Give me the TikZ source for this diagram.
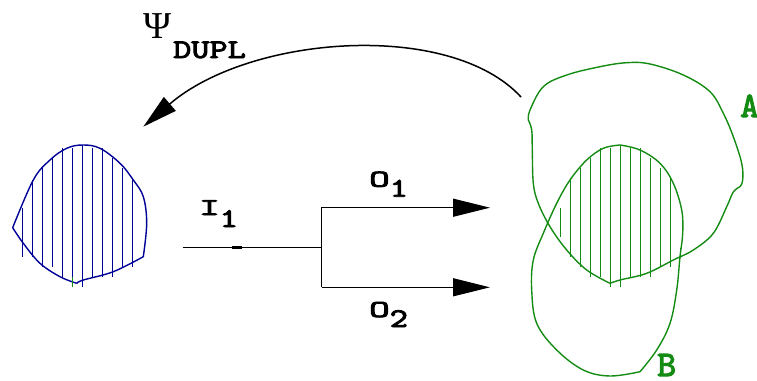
\documentclass[tikz,border=0pt]{standalone}
\usepackage{fontspec}
\usetikzlibrary{arrows.meta}
\newfontfamily\psifont{Liberation Serif}
\newfontfamily\labfont[FakeBold=3]{lmmono10-regular.otf}
\newcommand{\wide}[1]{\scalebox{1.28}[1]{#1}}
\definecolor{blobblue}{RGB}{0,0,150}
\definecolor{setgreen}{RGB}{20,140,20}
\begin{document}
\begin{tikzpicture}[x=1pt,y=-1pt,
  lbl/.style={inner sep=0pt, font=\labfont\fontsize{27}{27}\selectfont},
  setlbl/.style={inner sep=0pt, text=setgreen, font=\labfont\fontsize{36}{36}\selectfont},
  wire/.style={line width=1.3pt, black},
  flow/.style={wire, -{Triangle[length=37pt,width=18pt]}},
  bigflow/.style={line width=1.5pt, black, -{Triangle[length=35pt,width=18pt]}},
  blueline/.style={draw=blobblue, line width=1.4pt},
  greenline/.style={draw=setgreen, line width=1.4pt},
  curve/.style={smooth, tension=0.6}]
\useasboundingbox (0,0) rectangle (757,380);

% ---- duplicated region (left) ----
\draw[blueline] plot[curve] coordinates {(12.7,227.7) (33.3,180) (50,160) (66.7,148.3) (82.7,145) (100,148.3) (120,163.3) (133.3,180) (143.3,196.7) (146.7,223.3) (143.3,256.7)}
  plot[curve] coordinates {(143.3,256.7) (113.3,271.7) (83.3,280) (76.7,283.3)}
  plot[curve] coordinates {(76.7,283.3) (60,276.7) (40,263.3) (23.3,243.3) (12.7,227.7)};
\foreach \x/\a/\b in {22.7/208/257, 32.7/180/257, 42.7/168/267, 52.7/158/267,
    62.7/148/277, 72.7/148/277, 82.7/145/287, 92.7/148/277, 102.7/148/277,
    112.7/158/277, 122.7/168/267, 132.7/178/267}
  \draw[blueline] (\x,\a) -- (\x,\b);
\draw[greenline] (72.7,277) -- (72.7,287);

% ---- set A ----
\draw[greenline] plot[curve] coordinates {(528.3,120) (530,110) (543.3,86.7) (566.7,75) (600,66.7) (626.7,62.7) (650,64) (683.3,75) (710,91.7) (723.3,113.3) (733.3,136.7) (741.7,163.3) (742.7,180) (740,186.7)}
  plot[curve] coordinates {(740,186.7) (733.3,192) (726.7,206.7) (713.3,233.3) (693.3,250) (673.3,260) (646.7,273.3) (620,280) (610,283.3)}
  plot[curve] coordinates {(610,283.3) (586.7,270) (566.7,250) (550,226.7) (538.3,203.3) (533.3,183.3) (532.3,150) (531.7,130) (528.3,120)};

% ---- set B ----
\draw[greenline] plot[curve] coordinates {(620,145) (640,150) (660,163.3) (673.3,183.3) (681.7,210) (682.7,233.3) (680,256.7) (676.7,290) (670,323.3) (656.7,350) (640,371.7)}
  plot[curve] coordinates {(640,371.7) (610,376) (583.3,370) (556.7,350) (536.7,323.3) (531.7,290) (533.3,260) (543.3,233.3) (556.7,203.3) (570,180) (586.7,160) (603.3,148.3) (620,145)};

% ---- hatching of the intersection ----
\foreach \x/\a/\b in {560.7/208/237, 570.7/178/257, 580.7/168/267, 590.7/158/277,
    600.7/148/277, 610.7/148/287, 620.7/145/287, 630.7/148/277, 640.7/148/277,
    650.7/158/277, 660.7/168/267, 670.7/178/267, 680.7/248/258}
  \draw[greenline] (\x,\a) -- (\x,\b);

% ---- labels ----
\node[inner sep=0pt, anchor=base west, font=\psifont\fontsize{38}{38}\selectfont] (psi) at (143,38) {Ψ};
\node[lbl, anchor=base west] (dupl) at (173,58) {\wide{DUPL}};
\node[lbl, anchor=base west] (inlbl) at (199,215) {\scalebox{1.45}[0.9]{I}\raisebox{-12pt}{\wide{1}}};
\node[lbl, anchor=base west] (otop) at (369,186.7) {\scalebox{1.45}[0.9]{O}\raisebox{-10pt}{\wide{1}}};
\node[lbl, anchor=base west] (obot) at (369,317) {\scalebox{1.45}[0.9]{O}\raisebox{-10pt}{\wide{2}}};
\node[setlbl, anchor=base west] (setA) at (740,117) {A};
\node[setlbl, anchor=base west] (setB) at (657,376) {B};

% ---- duplication arrow ----
\coordinate (psiFrom) at (521,97);
\coordinate (psiTo) at (143.3,126.7);
\draw[bigflow] (psiFrom) .. controls (450,20) and (250,35) .. (psiTo);

% ---- input splitting into two outputs ----
\coordinate (inEnd) at (182.7,247.3);
\coordinate (fork) at (321.7,247.3);
\coordinate (forkTop) at (321.7,207.7);
\coordinate (forkBot) at (321.7,287.3);
\coordinate (outTop) at (490,207.7);
\coordinate (outBot) at (490,287.3);
\draw[wire] (inEnd) -- (fork);
\draw[line width=2.5pt] (231.7,247.3) -- (241.7,247.3);
\draw[flow] (forkBot) -- (forkTop) -- (outTop);
\draw[flow] (forkBot) -- (outBot);
\end{tikzpicture}
\end{document}
